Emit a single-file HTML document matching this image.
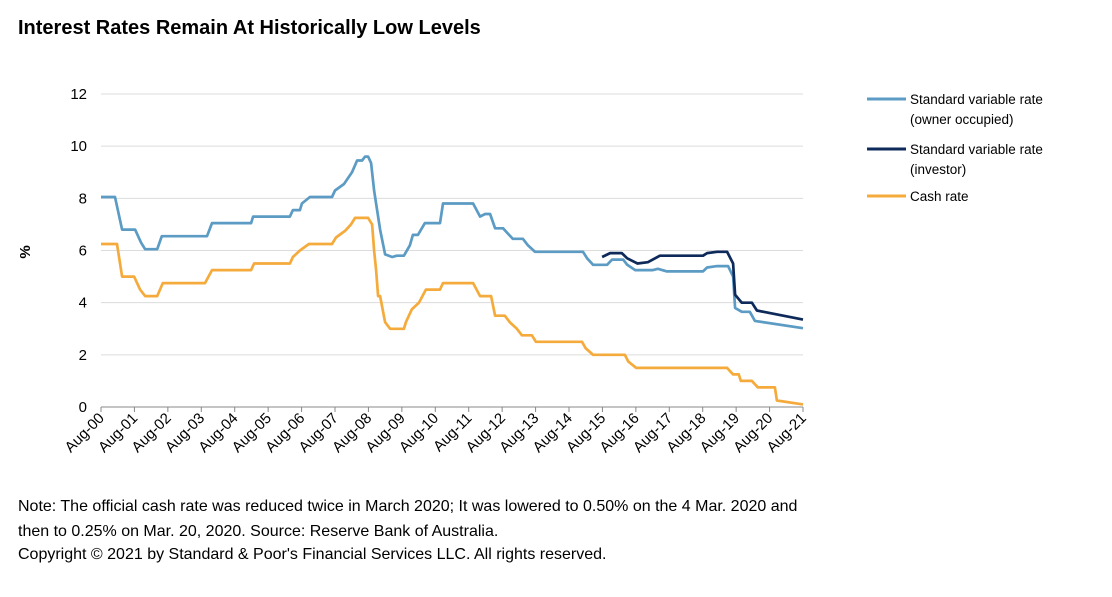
<!DOCTYPE html>
<html><head><meta charset="utf-8"><style>
body{margin:0;background:#fff;font-family:"Liberation Sans",Arial,sans-serif;}
svg text{font-family:"Liberation Sans",Arial,sans-serif;}
</style></head><body>
<svg id="c" width="1112" height="592">
<text x="18" y="34" font-size="20" font-weight="bold" fill="#000">Interest Rates Remain At Historically Low Levels</text>
<text transform="translate(30,252) rotate(-90)" text-anchor="middle" font-size="15" font-weight="bold">%</text>
<g id="grid"></g><g id="ylab"></g><g id="xax"></g><g id="lines"></g>
<g>
<line x1="867" y1="99" x2="906" y2="99" stroke="#5b9bc4" stroke-width="3"/>
<text x="910" y="104" font-size="13.5">Standard variable rate</text>
<text x="910" y="124" font-size="13.5">(owner occupied)</text>
<line x1="867" y1="149" x2="906" y2="149" stroke="#0d2a5a" stroke-width="3"/>
<text x="910" y="154" font-size="13.5">Standard variable rate</text>
<text x="910" y="174" font-size="13.5">(investor)</text>
<line x1="867" y1="196" x2="906" y2="196" stroke="#f5ab3c" stroke-width="3"/>
<text x="910" y="201" font-size="13.5">Cash rate</text>
</g>
<text x="18" y="511" font-size="16">Note: The official cash rate was reduced twice in March 2020; It was lowered to 0.50% on the 4 Mar. 2020 and</text>
<text x="18" y="536" font-size="16">then to 0.25% on Mar. 20, 2020. Source: Reserve Bank of Australia.</text>
<text x="18" y="559" font-size="16">Copyright © 2021 by Standard &amp; Poor's Financial Services LLC. All rights reserved.</text>
</svg>
<script>
const xLabels=["Aug-00","Aug-01","Aug-02","Aug-03","Aug-04","Aug-05","Aug-06","Aug-07","Aug-08","Aug-09","Aug-10","Aug-11","Aug-12","Aug-13","Aug-14","Aug-15","Aug-16","Aug-17","Aug-18","Aug-19","Aug-20","Aug-21"];
const yTicks=[0,2,4,6,8,10,12];
// years since Aug-00
const cashT=[0,0.48,0.63,0.99,1.17,1.32,1.68,1.85,3.11,3.32,4.49,4.58,5.65,5.74,5.95,6.22,6.91,7.03,7.3,7.48,7.6,7.99,8.11,8.17,8.23,8.29,8.35,8.5,8.65,9.06,9.12,9.3,9.51,9.72,10.14,10.23,11.13,11.34,11.67,11.79,12.08,12.23,12.44,12.59,12.89,13.01,14.39,14.5,14.72,15.67,15.77,16.01,18.73,18.91,19.08,19.14,19.47,19.65,20.16,20.22,21];
const cashV=[6.25,6.25,5,5,4.5,4.25,4.25,4.75,4.75,5.25,5.25,5.5,5.5,5.75,6,6.25,6.25,6.5,6.75,7,7.25,7.25,7,6,5.25,4.25,4.25,3.25,3,3,3.25,3.75,4,4.5,4.5,4.75,4.75,4.25,4.25,3.5,3.5,3.25,3,2.75,2.75,2.5,2.5,2.25,2,2,1.75,1.5,1.5,1.25,1.25,1,1,0.75,0.75,0.25,0.1];
const ownerT=[0,0.42,0.63,1.02,1.2,1.32,1.68,1.82,3.17,3.32,4.49,4.55,5.65,5.74,5.95,6.01,6.25,6.91,7.0,7.27,7.51,7.66,7.81,7.9,7.99,8.08,8.17,8.35,8.5,8.71,8.85,9.06,9.24,9.33,9.48,9.69,10.14,10.23,11.13,11.34,11.49,11.64,11.79,12.03,12.17,12.32,12.62,12.77,12.98,14.42,14.54,14.72,15.14,15.29,15.62,15.74,15.98,16.51,16.66,16.93,18.01,18.13,18.43,18.76,18.91,18.97,19.17,19.41,19.56,21];
const ownerV=[8.05,8.05,6.8,6.8,6.3,6.05,6.05,6.55,6.55,7.05,7.05,7.3,7.3,7.55,7.55,7.8,8.05,8.05,8.3,8.55,9.0,9.45,9.45,9.6,9.6,9.35,8.3,6.8,5.85,5.75,5.8,5.8,6.2,6.6,6.6,7.05,7.05,7.8,7.8,7.3,7.4,7.4,6.85,6.85,6.65,6.45,6.45,6.2,5.95,5.95,5.7,5.45,5.45,5.65,5.65,5.45,5.25,5.25,5.3,5.2,5.2,5.35,5.4,5.4,5.0,3.8,3.65,3.65,3.3,3.02];
const invT=[14.99,15.23,15.58,15.74,16.05,16.36,16.72,18.01,18.13,18.43,18.73,18.91,18.97,19.17,19.47,19.62,21];
const invV=[5.75,5.9,5.9,5.7,5.5,5.55,5.8,5.8,5.9,5.95,5.95,5.5,4.3,4.0,4.0,3.7,3.35];
const X0=101,X1=803,Y0=407,Y1=94,NS="http://www.w3.org/2000/svg";
const xs=t=>X0+t*(X1-X0)/21, ys=v=>Y0-v*(Y0-Y1)/12;
function mk(tag,attrs,parent){const e=document.createElementNS(NS,tag);for(const k in attrs)e.setAttribute(k,attrs[k]);parent.appendChild(e);return e;}
const grid=document.getElementById('grid'),ylab=document.getElementById('ylab'),xax=document.getElementById('xax'),lines=document.getElementById('lines');
yTicks.forEach(v=>{
 if(v>0){const g=mk('line',{x1:X0,x2:X1,y1:ys(v),y2:ys(v),stroke:'#dcdcdc','stroke-width':1},grid);
 
 }
 const t=mk('text',{x:87,y:ys(v)+5,'text-anchor':'end','font-size':15},ylab);t.textContent=v;
 
 
});
const ax=mk('line',{x1:X0,x2:X1,y1:Y0,y2:Y0,stroke:'#888','stroke-width':1},xax);


xLabels.forEach((l,i)=>{
 const x=xs(i);
 const tk=mk('line',{x1:x,x2:x,y1:Y0,y2:Y0+5,stroke:'#888'},xax);
 
 
 const t=mk('text',{x:x+4,y:Y0+12,'text-anchor':'end','font-size':15,transform:`rotate(-45 ${x+4} ${Y0+12})`},xax);t.textContent=l;
 
 
});
function series(T,V,color,name){
 const d=T.map((t,i)=>(i?'L':'M')+xs(t).toFixed(1)+','+ys(V[i]).toFixed(1)).join('');
 const p=mk('path',{d:d,fill:'none',stroke:color,'stroke-width':2.7,'stroke-linejoin':'round'},lines);
 
 
}
series(cashT,cashV,'#f5ab3c','cash-rate-line');
series(ownerT,ownerV,'#5b9bc4','owner-occupied-rate-line');
series(invT,invV,'#0d2a5a','investor-rate-line');
</script>
</body></html>
